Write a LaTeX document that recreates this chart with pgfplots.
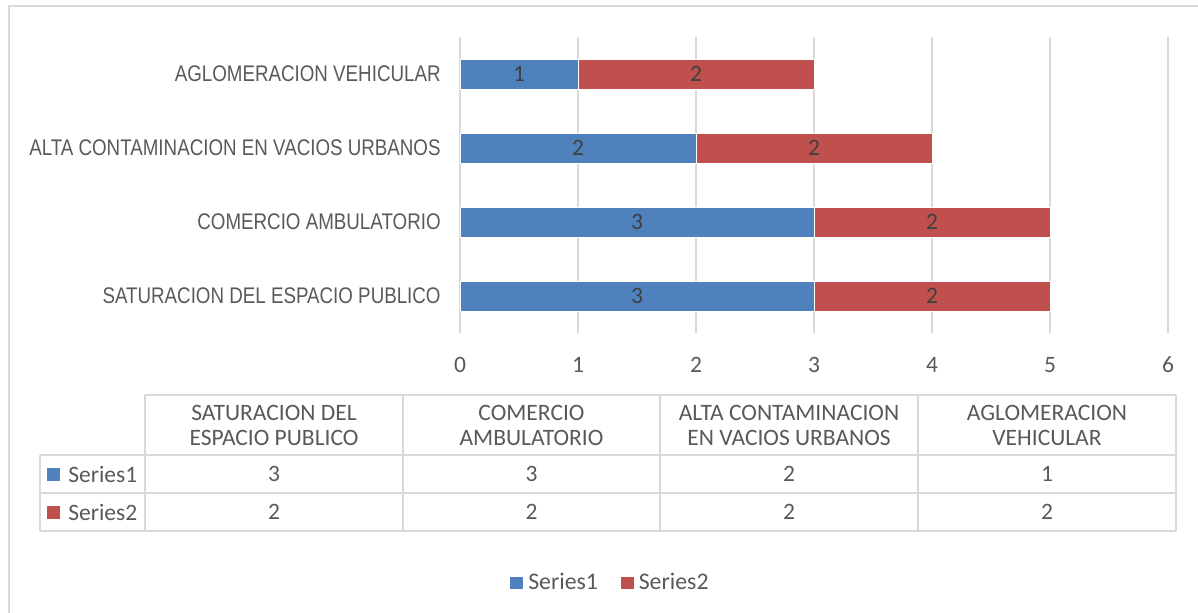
\documentclass[border=0pt]{standalone}
\usepackage{pgfplots}
\usepackage{pgfplotstable}
\pgfplotsset{compat=1.18}
\usepackage{fontspec}
\setmainfont{Carlito}
\newfontfamily\arial[FakeStretch=0.83]{Liberation Sans}
\definecolor{sblue}{HTML}{4F81BD}
\definecolor{sred}{HTML}{C0504D}
\definecolor{txt}{HTML}{595959}
\definecolor{lbl}{HTML}{404040}
\definecolor{gridc}{HTML}{D9D9D9}
\pgfplotstableread{
y s1 s2
0 3 2
1 3 2
2 2 2
3 1 2
}\data
\begin{document}
\begin{tikzpicture}
\useasboundingbox (0,0) rectangle (599pt,-306pt);
% outer chart border (top and left visible)
\draw[gridc, line width=0.75pt] (4.5pt,-320pt) -- (4.5pt,-3pt) -- (610pt,-3pt);
\begin{axis}[
  at={(230pt,-166.5pt)}, anchor=south west, scale only axis,
  width=354pt, height=148pt,
  xbar stacked, bar width=15pt,
  xmin=0, xmax=6, ymin=-0.5, ymax=3.5,
  xtick={0,1,2,3,4,5,6}, ytick={0,1,2,3},
  yticklabels={SATURACION DEL ESPACIO PUBLICO, COMERCIO AMBULATORIO, ALTA CONTAMINACION EN VACIOS URBANOS, AGLOMERACION VEHICULAR},
  axis line style={draw=none}, major tick length=0pt,
  xmajorgrids, grid style={color=gridc, line width=0.75pt},
  /pgf/number format/assume math mode=true,
  xticklabel style={font=\fontsize{11.75}{14}\selectfont, text=txt, inner sep=0pt, anchor=center, yshift=-16pt},
  yticklabel style={font=\arial\fontsize{11.3}{13}\selectfont, text=txt, inner sep=0pt, anchor=east, xshift=-9.5pt},
  legend image code/.code={\fill[#1] (0pt,-3.4pt) rectangle (7pt,3.4pt);},
  legend columns=2,
  legend style={at={(0.2133,-0.8446)}, anchor=center, draw=none, fill=none,
    font=\fontsize{11.9}{14}\selectfont, text=txt,
    /tikz/every even column/.append style={column sep=9pt}},
]
\addplot[fill=sblue, draw=white, line width=0.4pt] table[x=s1, y=y] {\data};
\addplot[fill=sred, draw=white, line width=0.4pt] table[x=s2, y=y] {\data};
\legend{Series1, Series2}
\end{axis}
\begin{axis}[
  at={(230pt,-166.5pt)}, anchor=south west, scale only axis,
  width=354pt, height=148pt,
  xmin=0, xmax=6, ymin=-0.5, ymax=3.5, hide axis,
  nodes near coords,
  every node near coord/.style={font=\fontsize{11.75}{14}\selectfont, text=lbl, anchor=center},
  /pgf/number format/assume math mode=true,
]
\addplot[only marks, mark=none, point meta=\thisrow{s1}] table[x expr=\thisrow{s1}/2, y=y] {\data};
\addplot[only marks, mark=none, point meta=\thisrow{s2}] table[x expr=\thisrow{s1}+\thisrow{s2}/2, y=y] {\data};
\end{axis}
% data table below the chart
\begin{scope}[gridc, line width=0.75pt]
\draw (72.5pt,-197.5pt) -- (588pt,-197.5pt);
\draw (20pt,-227.5pt) -- (588pt,-227.5pt);
\draw (20pt,-246.5pt) -- (588pt,-246.5pt);
\draw (20pt,-265.5pt) -- (588pt,-265.5pt);
\draw (20pt,-227.5pt) -- (20pt,-265.5pt);
\foreach \xx in {72.5,201.5,330,459,588} \draw (\xx pt,-197.5pt) -- (\xx pt,-265.5pt);
\end{scope}
\begin{scope}[every node/.style={font=\fontsize{11.75}{12.5}\selectfont, text=txt, align=center, inner sep=0pt}]
\node at (137pt,-212.5pt) {SATURACION DEL\\ESPACIO PUBLICO};
\node at (265.75pt,-212.5pt) {COMERCIO\\AMBULATORIO};
\node at (394.5pt,-212.5pt) {ALTA CONTAMINACION\\EN VACIOS URBANOS};
\node at (523.5pt,-212.5pt) {AGLOMERACION\\VEHICULAR};
\node at (137pt,-237pt) {3};
\node at (265.75pt,-237pt) {3};
\node at (394.5pt,-237pt) {2};
\node at (523.5pt,-237pt) {1};
\node at (137pt,-256pt) {2};
\node at (265.75pt,-256pt) {2};
\node at (394.5pt,-256pt) {2};
\node at (523.5pt,-256pt) {2};
\node[anchor=west] at (34pt,-237pt) {Series1};
\node[anchor=west] at (34pt,-256pt) {Series2};
\end{scope}
\fill[sblue] (23.5pt,-240.3pt) rectangle (30pt,-233.8pt);
\fill[sred] (23.5pt,-259.3pt) rectangle (30pt,-252.8pt);
\end{tikzpicture}
\end{document}
